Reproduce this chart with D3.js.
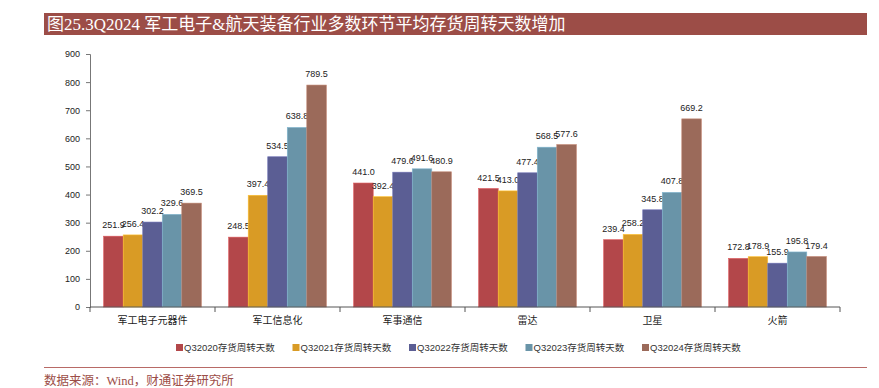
<!DOCTYPE html>
<html>
<head>
<meta charset="utf-8">
<script src="https://cdn.jsdelivr.net/npm/d3@7/dist/d3.min.js"></script>
<style>
  body { margin: 0; background: #fff; }
  svg { display: block; }
</style>
</head>
<body>
<svg id="chart" width="879" height="388"></svg>
<script>
const title = '图25.3Q2024 军工电子&航天装备行业多数环节平均存货周转天数增加'
const source = '数据来源：Wind，财通证券研究所'

const categories = ['军工电子元器件', '军工信息化', '军事通信', '雷达', '卫星', '火箭']
const seriesNames = ['Q32020存货周转天数', 'Q32021存货周转天数', 'Q32022存货周转天数', 'Q32023存货周转天数', 'Q32024存货周转天数']
const q2020 = [251.9, 248.5, 441.0, 421.5, 239.4, 172.8]
const q2021 = [256.4, 397.4, 392.4, 413.0, 258.2, 178.9]
const q2022 = [302.2, 534.5, 479.6, 477.4, 345.8, 155.9]
const q2023 = [329.6, 638.8, 491.6, 568.5, 407.8, 195.8]
const q2024 = [369.5, 789.5, 480.9, 577.6, 669.2, 179.4]
const yTicks = [0, 100, 200, 300, 400, 500, 600, 700, 800, 900]

const colors = ['#b3474a', '#d99b25', '#5b5e94', '#6994a8', '#9b6a5a']
const series = [q2020, q2021, q2022, q2023, q2024]

const svg = d3.select('#chart')
const sans = '"Liberation Sans", "Noto Sans CJK SC", sans-serif'
const serif = '"Liberation Serif", "Noto Sans CJK SC", serif'

// title bar
svg.append('rect')
    .attr('x', 44).attr('y', 13).attr('width', 823).attr('height', 22)
    .attr('fill', '#9c4d47')
svg.append('text')
    .attr('x', 47).attr('y', 30)
    .attr('fill', '#fff')
    .attr('font-family', serif)
    .attr('font-size', 17)
    .text(title)

const margin = { left: 90, right: 840, top: 54, bottom: 307 }

const x0 = d3.scaleBand().domain(categories).range([margin.left, margin.right]).paddingInner(0).paddingOuter(0)
const x1 = d3.scaleBand().domain(d3.range(series.length)).range([0, x0.bandwidth()]).paddingInner(0).paddingOuter(0.7)
const y = d3.scaleLinear().domain([0, 900]).range([margin.bottom, margin.top])

// bars
categories.forEach((c, ci) => {
    const g = svg.append('g').attr('transform', `translate(${x0(c)},0)`)
    series.forEach((s, si) => {
        g.append('rect')
            .attr('x', x1(si))
            .attr('y', y(s[ci]))
            .attr('width', x1.bandwidth())
            .attr('height', y(0) - y(s[ci]))
            .attr('fill', colors[si])
            .attr('stroke', d3.color(colors[si]).brighter(0.6))
            .attr('stroke-width', 0.6)
        g.append('text')
            .attr('x', x1(si) + x1.bandwidth() / 2)
            .attr('y', y(s[ci]) - 8)
            .attr('text-anchor', 'middle')
            .attr('font-family', sans)
            .attr('font-size', 9)
            .attr('fill', '#222')
            .text(s[ci].toFixed(1))
    })
})

// y axis
const yAxis = svg.append('g')
    .attr('transform', `translate(${margin.left},0)`)
    .call(d3.axisLeft(y).tickValues(yTicks).tickSize(4).tickPadding(6))
yAxis.selectAll('text').attr('font-family', sans).attr('font-size', 9).attr('fill', '#222')
yAxis.selectAll('line, path').attr('stroke', '#777')

// x axis
const xAxis = svg.append('g').attr('transform', `translate(0,${margin.bottom})`)
xAxis.append('line')
    .attr('x1', margin.left).attr('x2', margin.right)
    .attr('stroke', '#555')
const bounds = categories.map(c => x0(c)).concat([margin.right])
xAxis.selectAll('.tk').data(bounds).enter().append('line')
    .attr('x1', d => d).attr('x2', d => d)
    .attr('y1', 0).attr('y2', 5)
    .attr('stroke', '#555')
xAxis.selectAll('.lbl').data(categories).enter().append('text')
    .attr('x', d => x0(d) + x0.bandwidth() / 2)
    .attr('y', 17)
    .attr('text-anchor', 'middle')
    .attr('font-family', sans)
    .attr('font-size', 10)
    .attr('fill', '#222')
    .text(d => d)

// legend
const legend = svg.append('g').attr('transform', 'translate(176,344)')
seriesNames.forEach((name, i) => {
    const lg = legend.append('g').attr('transform', `translate(${i * 116.5},0)`)
    lg.append('rect').attr('width', 7).attr('height', 7).attr('fill', colors[i])
    lg.append('text')
        .attr('x', 8).attr('y', 7)
        .attr('font-family', sans)
        .attr('font-size', 9.5)
        .attr('fill', '#333')
        .text(name)
})

// source
svg.append('line')
    .attr('x1', 44).attr('x2', 867).attr('y1', 367.5).attr('y2', 367.5)
    .attr('stroke', '#b86a66')
svg.append('text')
    .attr('x', 44).attr('y', 385)
    .attr('fill', '#9c4d47')
    .attr('font-family', serif)
    .attr('font-size', 12.5)
    .text(source)
</script>
</body>
</html>
